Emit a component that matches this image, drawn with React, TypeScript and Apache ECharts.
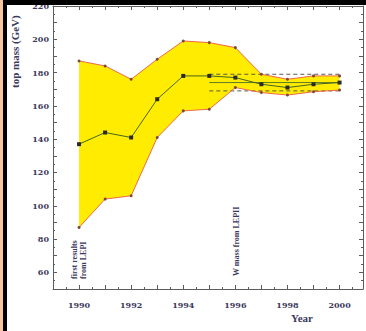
import React, { useEffect, useRef } from "react";
import * as echarts from "echarts";

// Year-by-year indirect determination of the top mass
const years = [1990, 1991, 1992, 1993, 1994, 1995, 1996, 1997, 1998, 1999, 2000];
const upperLimit = [187, 184, 176, 188, 199, 198, 195, 179, 176, 178, 178];
const centralFit = [137, 144, 141, 164, 178, 178, 177, 173, 171, 173, 174];
const lowerLimit = [87, 104, 106, 141, 157, 158, 171, 168, 166.5, 168.5, 169.5];

// Band obtained once the W mass enters the fit
const wYears = [1995, 2000];
const wCentral = 174;
const wHigh = 179;
const wLow = 169;

const yTickLabels = [60, 80, 100, 120, 140, 160, 180, 200, 220];
const xTickLabels = [1990, 1992, 1994, 1996, 1998, 2000];

const serif = "DejaVu Serif";
const labelColor = "#3b3a5c";
const axisColor = "#5c5c5c";

export default function App() {
  const ref = useRef<HTMLDivElement>(null);

  useEffect(() => {
    const chart = echarts.init(ref.current!, null, { renderer: "svg" });
    const pairs = (vals: number[]) => years.map((y, i) => [y, vals[i]]);
    const flat = (v: number) => wYears.map((y) => [y, v]);

    const tickStyle = {
      axisLine: { show: true, lineStyle: { color: axisColor, width: 1 } },
      axisTick: { show: true, inside: true, length: 4, lineStyle: { color: axisColor } },
      minorTick: { show: true, splitNumber: 2, length: 2, lineStyle: { color: axisColor } },
      splitLine: { show: false },
      minorSplitLine: { show: false },
    };

    const xBase = {
      type: "value",
      min: 1989,
      max: 2000.9,
      interval: 1,
      ...tickStyle,
    };
    const yBase = {
      type: "value",
      min: 50,
      max: 220,
      interval: 10,
      ...tickStyle,
    };

    chart.setOption({
      animation: false,
      backgroundColor: "#ffffff",
      grid: { left: 53, top: 6, right: 3, bottom: 42, containLabel: false },
      xAxis: [
        {
          ...xBase,
          position: "bottom",
          axisLabel: {
            show: true,
            margin: 12,
            color: labelColor,
            fontFamily: serif,
            fontWeight: "bold",
            fontSize: 8,
            showMaxLabel: false,
            formatter: (v: number) => (xTickLabels.includes(v) ? String(v) : ""),
          },
        },
        { ...xBase, position: "top", axisLabel: { show: false } },
      ],
      yAxis: [
        {
          ...yBase,
          position: "left",
          axisLabel: {
            show: true,
            margin: 4,
            color: labelColor,
            fontFamily: serif,
            fontWeight: "bold",
            fontSize: 8,
            formatter: (v: number) => (yTickLabels.includes(v) ? String(v) : ""),
          },
        },
        { ...yBase, position: "right", axisLabel: { show: false } },
      ],
      series: [
        {
          // yellow band between the lower and upper limits
          type: "custom",
          data: years.map((y, i) => [y, lowerLimit[i], upperLimit[i]]),
          encode: { x: 0, y: [1, 2] },
          silent: true,
          z: 1,
          renderItem: (params: any, api: any) => {
            if (params.dataIndex !== 0) return null;
            const top = years.map((y, i) => api.coord([y, upperLimit[i]]));
            const bottom = years.map((y, i) => api.coord([y, lowerLimit[i]])).reverse();
            return {
              type: "polygon",
              shape: { points: [...top, ...bottom] },
              style: { fill: "#ffec00" },
            };
          },
        },
        {
          type: "line",
          data: flat(wHigh),
          symbol: "none",
          lineStyle: { color: "#5a5a4a", width: 1, type: [4, 3] },
          z: 2,
        },
        {
          type: "line",
          data: flat(wLow),
          symbol: "none",
          lineStyle: { color: "#5a5a4a", width: 1, type: [4, 3] },
          z: 2,
        },
        {
          type: "line",
          data: flat(wCentral),
          symbol: "none",
          lineStyle: { color: "#5d7a28", width: 1 },
          z: 2,
        },
        {
          type: "line",
          data: pairs(upperLimit),
          symbol: "circle",
          symbolSize: 3,
          itemStyle: { color: "#7a4a3a" },
          lineStyle: { color: "#ee6a4a", width: 1 },
          z: 3,
        },
        {
          type: "line",
          data: pairs(lowerLimit),
          symbol: "circle",
          symbolSize: 3,
          itemStyle: { color: "#7a4a3a" },
          lineStyle: { color: "#ee6a4a", width: 1 },
          z: 3,
        },
        {
          type: "line",
          data: pairs(centralFit),
          symbol: "rect",
          symbolSize: 4,
          itemStyle: { color: "#2a2a2a" },
          lineStyle: { color: "#46661e", width: 1 },
          z: 4,
        },
      ],
      graphic: [
        {
          type: "text",
          x: 15,
          y: 88,
          rotation: Math.PI / 2,
          z: 50,
          style: {
            text: "top mass (GeV)",
            fill: labelColor,
            font: `bold 11px "Liberation Serif"`,
            align: "left",
            verticalAlign: "middle",
          },
        },
        {
          type: "text",
          x: 79,
          y: 279,
          rotation: Math.PI / 2,
          z: 50,
          style: {
            text: "first results\nfrom LEPI",
            fill: labelColor,
            font: `bold 8px "Liberation Serif"`,
            lineHeight: 9,
            align: "left",
            verticalAlign: "middle",
          },
        },
        {
          type: "text",
          x: 236,
          y: 276,
          rotation: Math.PI / 2,
          z: 50,
          style: {
            text: "W mass from LEPII",
            fill: labelColor,
            font: `bold 8px "Liberation Serif"`,
            align: "left",
            verticalAlign: "middle",
          },
        },
        {
          type: "text",
          x: 302,
          y: 318,
          z: 50,
          style: {
            text: "Year",
            fill: labelColor,
            font: `bold 11px "Liberation Serif"`,
            align: "center",
            verticalAlign: "middle",
          },
        },
        { type: "rect", z: 100, shape: { x: 0, y: 0, width: 366, height: 5 }, style: { fill: "#000000" } },
        { type: "rect", z: 100, shape: { x: 0, y: 0, width: 3, height: 331 }, style: { fill: "#f6c6a0" } },
        { type: "rect", z: 100, shape: { x: 3, y: 0, width: 4, height: 331 }, style: { fill: "#000000" } },
      ],
    });

    return () => chart.dispose();
  }, []);

  return (
    <div
      ref={ref}
      style={{ position: "fixed", left: 0, top: 0, width: 366, height: 331 }}
    />
  );
}
